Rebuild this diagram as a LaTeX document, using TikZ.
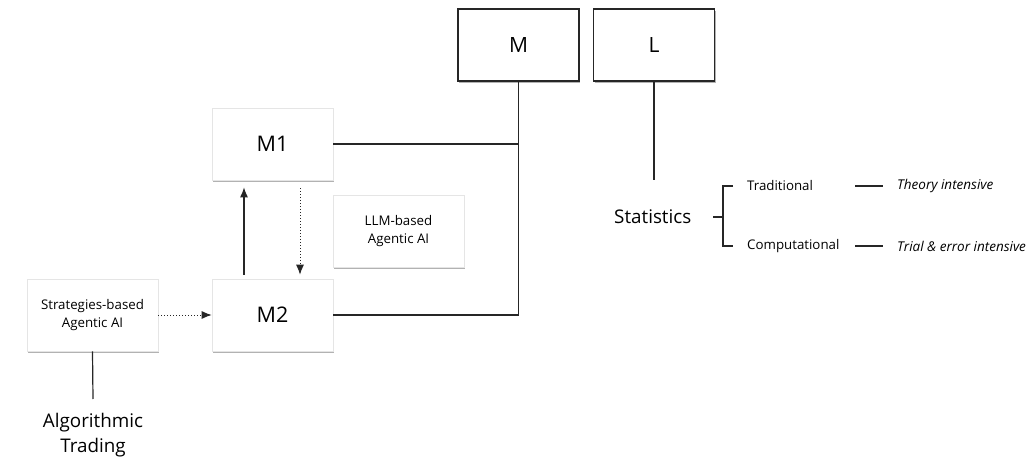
\documentclass[tikz,border=0pt]{standalone}
\usepackage{fontspec}
\setmainfont{Open Sans}
\usetikzlibrary{shadows,arrows.meta}
\begin{document}
\begin{tikzpicture}[x=1pt,y=-1pt,
  line/.style={draw=black!85, line width=1.2pt},
  softshadow/.style={drop shadow={shadow xshift=1.2pt, shadow yshift=-1.8pt, fill=black, opacity=0.3}},
  sbox/.style={fill=white, draw=black!10, line width=0.6pt, minimum width=121pt, minimum height=72pt, inner sep=0pt, align=center, softshadow},
  mbox/.style={sbox, draw=black!85, line width=1.2pt, font=\fontsize{21}{25}\selectfont},
  big/.style={font=\fontsize{21.5}{25}\selectfont},
  small/.style={font=\fontsize{13.3}{17.5}\selectfont},
  ital/.style={font=\fontsize{13.5}{17.5}\selectfont\itshape},
  mid/.style={font=\fontsize{18.8}{24.5}\selectfont},
  arr/.style={line, -{Latex[length=10pt,width=8pt]}},
  dotarr/.style={line, line width=1pt, dotted, -{Latex[length=10pt,width=8pt]}}
]
\useasboundingbox (0,0) rectangle (1033,470);

% top boxes
\node[mbox] (M) at (518.5,45) {M};
\node[mbox] (L) at (654,45) {L};

% left part
\node[sbox, big] (M1) at (272.5,144) {M1};
\node[sbox, big] (M2) at (272.5,315) {M2};
\node[sbox, small, minimum width=131pt] (LLM) at (398.5,231) {LLM-based\\Agentic AI};
\node[sbox, small, minimum width=131pt] (S) at (92.5,315) {Strategies-based\\Agentic AI};
\node[mid, align=center] (AT) at (93,435) {Algorithmic\\Trading};
\coordinate (Send) at (93,399);

% connectors to M
\draw[line] (M1.east) -- (M1.east -| M.south);
\draw[line] (M2.east) -| (M.south);

% arrows between M1 and M2
\draw[arr, shorten <=4pt, shorten >=7pt] ([xshift=-28.5pt]M2.north) -- ([xshift=-28.5pt]M1.south);
\draw[dotarr, shorten <=8pt, shorten >=4pt] ([xshift=27.5pt]M1.south) -- ([xshift=27.5pt]M2.north);
\draw[dotarr] (S.east) -- (M2.west);
\draw[line] (S.south) -- (Send);

% L branch
\coordinate (Lend) at (654,180);
\draw[line] (L.south) -- (Lend);

% Statistics
\node[mid, anchor=west, inner sep=0pt] (Stat) at (614,217) {Statistics};
\coordinate (bk) at (723,217);
\coordinate (bkl) at (713,217);
\coordinate (bt) at (723,186);
\coordinate (bb) at (723,246);
\coordinate (btr) at (733,186);
\coordinate (bbr) at (733,246);
\draw[line] (bkl) -- (bk);
\draw[line] (btr) -- (bt) -- (bb) -- (bbr);
\node[small, anchor=west, inner sep=0pt] (Trad) at (747,186) {Traditional};
\node[small, anchor=west, inner sep=0pt] (Comp) at (747,246) {Computational};
\coordinate (d1a) at (855,186); \coordinate (d1b) at (883,186);
\coordinate (d2a) at (855,246); \coordinate (d2b) at (883,246);
\draw[line] (d1a) -- (d1b);
\draw[line] (d2a) -- (d2b);
\node[ital, anchor=west, inner sep=0pt] (TI) at (897,186) {Theory intensive};
\node[ital, anchor=west, inner sep=0pt] (TE) at (897,246) {Trial \& error intensive};
\end{tikzpicture}
\end{document}
